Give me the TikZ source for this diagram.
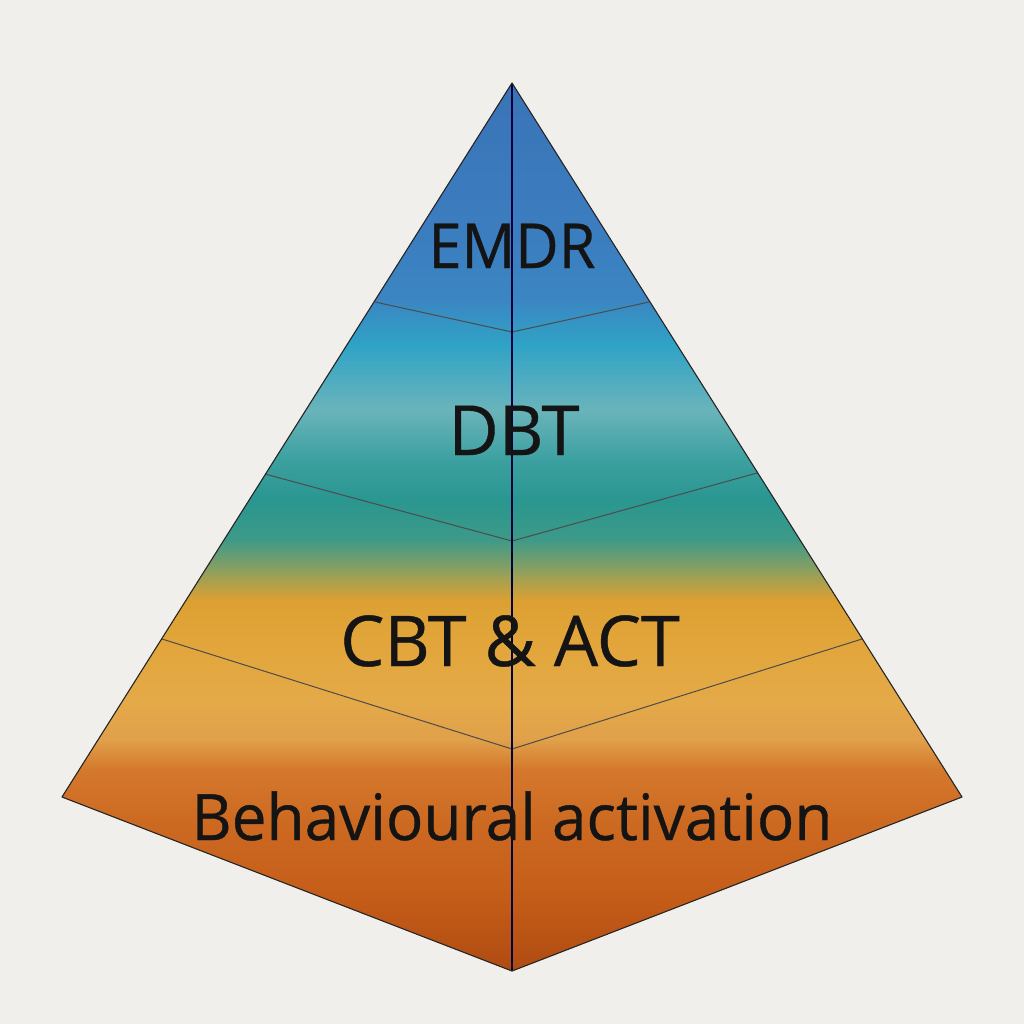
\documentclass[tikz,border=0pt]{standalone}
\usepackage{fontspec}
\setmainfont{Open Sans}
\newfontfamily\lblfont{Open Sans}[FakeBold=0.6]
\begin{document}
\begin{tikzpicture}[x=1pt,y=-1pt,
  edge/.style={draw=black!85, line width=1.1pt, line join=round},
  seam/.style={draw=black!75!blue, line width=1.3pt},
  band/.style={draw=black!70, line width=1pt},
  lbl/.style={text=black!92, inner sep=0pt, anchor=base}]
\definecolor{bg}{HTML}{F0EFEB}
\definecolor{c0}{HTML}{3A73B6}
\definecolor{c1}{HTML}{3B7FC0}
\definecolor{c2}{HTML}{3B86C2}
\definecolor{c3}{HTML}{2FA3C6}
\definecolor{c4}{HTML}{6AB4BB}
\definecolor{c5}{HTML}{3CA0A0}
\definecolor{c6}{HTML}{2A9690}
\definecolor{c7}{HTML}{3D9A88}
\definecolor{c8}{HTML}{9AA058}
\definecolor{c9}{HTML}{DCA032}
\definecolor{c10}{HTML}{E2A53A}
\definecolor{c11}{HTML}{E4AA48}
\definecolor{c12}{HTML}{E0A04A}
\definecolor{c13}{HTML}{D4782C}
\definecolor{c14}{HTML}{CD6A22}
\definecolor{c15}{HTML}{C45C18}
\definecolor{c16}{HTML}{AE4A12}
\fill[bg] (0,0) rectangle (1024,1024);
\useasboundingbox (0,0) rectangle (1024,1024);
% corners
\coordinate (apex) at (512,83);
\coordinate (bl) at (62,797);
\coordinate (bf) at (512,971);
\coordinate (br) at (962,797);
\coordinate (l1) at (375,302); \coordinate (m1) at (512,332); \coordinate (r1) at (649,302);
\coordinate (l2) at (265,474); \coordinate (m2) at (512,541); \coordinate (r2) at (757,473);
\coordinate (l3) at (162,639); \coordinate (m3) at (512,749); \coordinate (r3) at (862,639);
\begin{scope}
\clip (apex) -- (br) -- (bf) -- (bl) -- cycle;
\foreach \ya/\ca/\yb/\cb in {80/c0/250/c1, 250/c1/300/c2, 300/c2/345/c3, 345/c3/410/c4, 410/c4/460/c5, 460/c5/500/c6, 500/c6/540/c7, 540/c7/575/c8, 575/c8/600/c9, 600/c9/640/c10, 640/c10/700/c11, 700/c11/740/c12, 740/c12/770/c13, 770/c13/820/c14, 820/c14/900/c15, 900/c15/975/c16}
  \fill[top color=\ca, bottom color=\cb] (0,\ya-0.6) rectangle (1024,\yb+0.6);
\end{scope}
\draw[band] (l1) -- (m1) -- (r1);
\draw[band] (l2) -- (m2) -- (r2);
\draw[band] (l3) -- (m3) -- (r3);
\draw[seam] (apex) -- (bf);
\draw[edge] (apex) -- (br) -- (bf) -- (bl) -- cycle;
\node[lbl, font=\lblfont\fontsize{62}{62}\selectfont, xscale=0.96] (emdr) at (512,268) {EMDR};
\node[lbl, font=\lblfont\fontsize{69}{69}\selectfont] (dbt) at (514,455) {DBT};
\node[lbl, font=\lblfont\fontsize{70}{70}\selectfont] (cbt) at (510,666) {CBT \& ACT};
\node[lbl, font=\lblfont\fontsize{64}{64}\selectfont, xscale=0.97] (ba) at (512,840) {Behavioural activation};
\end{tikzpicture}
\end{document}
